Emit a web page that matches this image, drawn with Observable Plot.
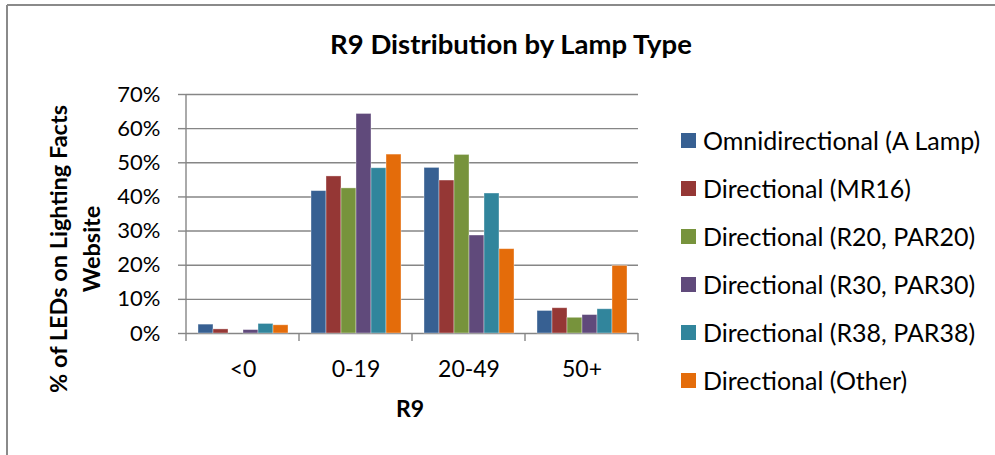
<!DOCTYPE html>
<html><head><meta charset="utf-8">
<script src="https://cdn.jsdelivr.net/npm/d3@7"></script>
<script src="https://cdn.jsdelivr.net/npm/@observablehq/plot@0.6"></script>
<style>
html,body{margin:0;padding:0;background:#fff;}
#chart{position:relative;width:995px;height:455px;overflow:hidden;}
</style></head><body><div id="chart"></div>
<script>
const title = "R9 Distribution by Lamp Type";
const yLabelLines = ["% of LEDs on Lighting Facts", "Website"];
const xLabel = "R9";
const categories = ["<0", "0-19", "20-49", "50+"];
const series = [
  "Omnidirectional (A Lamp)",
  "Directional (MR16)",
  "Directional (R20, PAR20)",
  "Directional (R30, PAR30)",
  "Directional (R38, PAR38)",
  "Directional (Other)"
];
const colors = ["#376092", "#953735", "#77933C", "#604A7B", "#31859C", "#E46C0A"];
// values in percent, per category (<0, 0-19, 20-49, 50+)
const omni  = [2.6, 41.7, 48.5, 6.6];
const mr16  = [1.2, 46.0, 44.8, 7.4];
const r20   = [0.0, 42.5, 52.3, 4.6];
const r30   = [1.0, 64.3, 28.7, 5.4];
const r38   = [2.8, 48.4, 41.0, 7.1];
const other = [2.4, 52.4, 24.7, 19.8];
const yTicks = [0, 10, 20, 30, 40, 50, 60, 70];

const seriesValues = [omni, mr16, r20, r30, r38, other];
const rows = series.flatMap((s, i) => categories.map((c, j) => ({cat: c, series: s, value: seriesValues[i][j]})));

const FONT = "Lato, 'Open Sans', sans-serif";
const GRID = "#868686";

const plot = Plot.plot({
  width: 995, height: 455,
  marginLeft: 184, marginRight: 356, marginTop: 94, marginBottom: 122,
  style: {fontFamily: FONT, fontSize: "22px", color: "#000", background: "transparent", overflow: "visible"},
  fx: {domain: categories, padding: 0, label: null},
  x: {domain: series, paddingInner: 0, paddingOuter: 0.74, axis: null},
  y: {domain: [0, 70], label: null},
  color: {domain: series, range: colors},
  marks: [
    Plot.gridY(yTicks, {stroke: GRID, strokeOpacity: 1, strokeWidth: 1.4}),
    Plot.barY(rows, {fx: "cat", x: "series", y: "value", fill: "series", stroke: "#ffffff", strokeOpacity: 0.45, strokeWidth: 0.8}),
    Plot.axisY(yTicks, {tickSize: 8, tickPadding: 18, tickFormat: d => d + "%", stroke: GRID, strokeWidth: 1.4, fontSize: 22, label: null}),
    Plot.axisFx({anchor: "bottom", tickSize: 0, tickPadding: 27, fontSize: 23, label: null})
  ]
});

const svg = d3.select(plot);
const fx = plot.scale("fx");
const y = plot.scale("y");
const x0 = fx.apply(categories[0]);
const bw = fx.bandwidth;
const y0 = y.apply(0), yTop = y.apply(70);

// y axis line and category boundary ticks
svg.append("line").attr("x1", x0).attr("x2", x0).attr("y1", yTop).attr("y2", y0 + 8)
  .attr("stroke", GRID).attr("stroke-width", 1.4);
categories.forEach((c) => {
  const xb = fx.apply(c) + bw;
  svg.append("line").attr("x1", xb).attr("x2", xb).attr("y1", y0).attr("y2", y0 + 8)
    .attr("stroke", GRID).attr("stroke-width", 1.4);
});

// chart frame (left and top edges visible)
svg.append("line").attr("x1", 7).attr("x2", 7).attr("y1", 5).attr("y2", 455).attr("stroke", "#8a8a8a").attr("stroke-width", 2);
svg.append("line").attr("x1", 7).attr("x2", 995).attr("y1", 5).attr("y2", 5).attr("stroke", "#8a8a8a").attr("stroke-width", 2);

// title
svg.append("text").attr("x", 511).attr("y", 54).attr("text-anchor", "middle")
  .attr("font-family", FONT).attr("font-weight", "bold").attr("font-size", 27.5).attr("fill", "#000").text(title);

// x label
svg.append("text").attr("x", x0 + bw * categories.length / 2 - 2).attr("y", 417).attr("text-anchor", "middle")
  .attr("font-family", FONT).attr("font-weight", "bold").attr("font-size", 23).attr("fill", "#000").text(xLabel);

// y label (two lines, rotated)
const yl = svg.append("text").attr("transform", "translate(0,249) rotate(-90)").attr("text-anchor", "middle")
  .attr("font-family", FONT).attr("font-weight", "bold").attr("font-size", 23.5).attr("fill", "#000");
yl.append("tspan").attr("x", 0).attr("y", 67).text(yLabelLines[0]);
yl.append("tspan").attr("x", 0).attr("y", 100).text(yLabelLines[1]);

// legend
const lg = svg.append("g").attr("font-family", FONT).attr("font-size", 25).attr("text-anchor", "start");
series.forEach((s, i) => {
  const cy = 140.5 + i * 48;
  lg.append("rect").attr("x", 681).attr("y", cy - 7.5).attr("width", 15).attr("height", 15).attr("fill", colors[i]);
  lg.append("text").attr("x", 703).attr("y", cy).attr("dy", "0.36em").attr("text-anchor", "start").attr("fill", "#000").text(s);
});

document.getElementById("chart").appendChild(plot);
</script>
</body></html>
